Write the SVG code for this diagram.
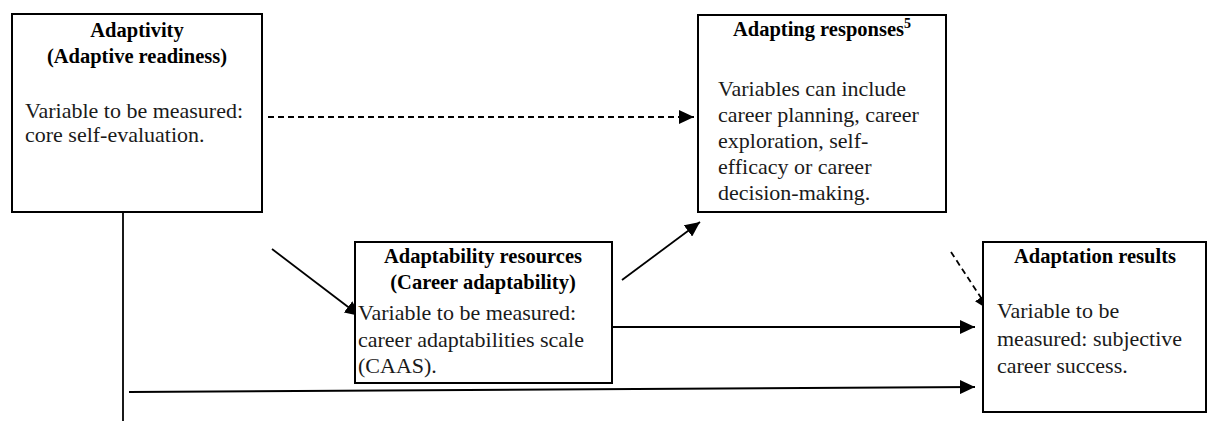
<svg xmlns="http://www.w3.org/2000/svg" width="1208" height="423" viewBox="0 0 1208 423">
<style>
.box{fill:#fff;stroke:#000;stroke-width:2}
.h{font-family:'Liberation Serif','Tinos','Times New Roman','DejaVu Serif',serif;font-weight:bold;font-size:20.5px;text-anchor:middle;fill:#000}
.b{font-family:'Liberation Serif','Tinos','Times New Roman','DejaVu Serif',serif;font-size:22px;fill:#1a1a1a}
.ln{stroke:#000;stroke-width:1.8;fill:none}
.dash{stroke-dasharray:6 4}
</style>
<defs>
<marker id="ah" markerUnits="userSpaceOnUse" markerWidth="16" markerHeight="14" refX="15" refY="7" orient="auto">
<path d="M0,0 L15,7 L0,14 z" fill="#000"/>
</marker>
</defs>
<rect width="1208" height="423" fill="#fff"/>
<g id="connectors">
<line class="ln" x1="123" y1="212" x2="123" y2="421"/>
<line class="ln" x1="129" y1="392" x2="975" y2="387" marker-end="url(#ah)"/>
<line class="ln dash" x1="268" y1="117" x2="694" y2="117" marker-end="url(#ah)"/>
<line class="ln" x1="272" y1="249" x2="360" y2="316" marker-end="url(#ah)"/>
<line class="ln" x1="622" y1="280" x2="700" y2="222" marker-end="url(#ah)"/>
<line class="ln" x1="612" y1="327" x2="975" y2="327" marker-end="url(#ah)"/>
<line class="ln dash" x1="951" y1="252" x2="989" y2="310" marker-end="url(#ah)"/>
</g>
<g id="adaptivity">
<rect class="box" x="12" y="14" width="250" height="198"/>
<text class="h" x="137" y="37">Adaptivity</text>
<text class="h" x="137" y="63">(Adaptive readiness)</text>
<text class="b" x="25" y="118">Variable to be measured:</text>
<text class="b" x="25" y="142">core self-evaluation.</text>
</g>
<g id="adapting-responses">
<rect class="box" x="698" y="15" width="248" height="197"/>
<text class="h" x="822" y="36">Adapting responses<tspan font-size="14" dy="-8">5</tspan></text>
<text class="b" x="718" y="96">Variables can include</text>
<text class="b" x="718" y="122">career planning, career</text>
<text class="b" x="718" y="148">exploration, self-</text>
<text class="b" x="718" y="174">efficacy or career</text>
<text class="b" x="718" y="200">decision-making.</text>
</g>
<g id="adaptability-resources">
<rect class="box" x="355" y="242" width="257" height="141"/>
<text class="h" x="483" y="263">Adaptability resources</text>
<text class="h" x="483" y="289">(Career adaptability)</text>
<text class="b" x="358" y="320">Variable to be measured:</text>
<text class="b" x="358" y="347">career adaptabilities scale</text>
<text class="b" x="358" y="373">(CAAS).</text>
</g>
<g id="adaptation-results">
<rect class="box" x="983" y="242" width="223" height="170"/>
<text class="h" x="1095" y="263">Adaptation results</text>
<text class="b" x="997" y="318">Variable to be</text>
<text class="b" x="997" y="346">measured: subjective</text>
<text class="b" x="997" y="373">career success.</text>
</g>
</svg>
